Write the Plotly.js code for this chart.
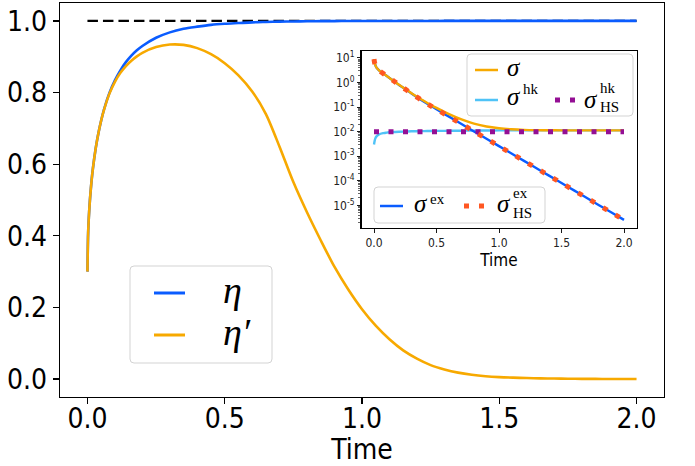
<!DOCTYPE html>
<html><head><meta charset="utf-8">
<script src="https://cdn.plot.ly/plotly-3.0.1.min.js"></script>
<style>html,body{margin:0;padding:0;background:#fff}#chart{width:695px;height:466px}</style>
</head><body><div id="chart"></div>
<script>
// ---------- main panel data ----------
const timeMain = [0,0.0025,0.005,0.0075,0.01,0.015,0.02,0.03,0.04,0.05,0.06,0.08,0.1,0.12,0.14,0.16,0.18,0.2,0.25,0.3,0.35,0.4,0.45,0.5,0.55,0.6,0.65,0.7,0.75,0.8,0.85,0.9,0.95,1.0,1.05,1.1,1.15,1.2,1.25,1.3,1.35,1.4,1.45,1.5,1.55,1.6,1.65,1.7,1.75,1.8,1.85,1.9,1.95,2.0];
const eta = [0.30,0.408,0.451,0.483,0.51,0.554,0.589,0.644,0.687,0.722,0.752,0.799,0.834,0.862,0.885,0.903,0.918,0.930,0.953,0.968,0.978,0.984,0.989,0.992,0.994,0.996,0.997,0.998,0.9985,0.999,0.9993,0.9995,0.9996,0.9997,0.9998,0.9998,0.9999,0.9999,0.9999,1,1,1,1,1,1,1,1,1,1,1,1,1,1,1];
const etaPrime = [0.30,0.408,0.451,0.483,0.51,0.554,0.589,0.644,0.687,0.722,0.751,0.797,0.830,0.855,0.874,0.889,0.901,0.911,0.927,0.934,0.933,0.924,0.907,0.882,0.848,0.803,0.740,0.648,0.550,0.465,0.387,0.313,0.250,0.195,0.149,0.111,0.080,0.057,0.039,0.027,0.018,0.012,0.008,0.0055,0.004,0.003,0.002,0.0015,0.001,0.0007,0.0005,0.0003,0.0002,0.0001];
const refTime = [0, 2.0];
const refLevel = [1.0, 1.0];
const mainXTicks = [0, 0.5, 1.0, 1.5, 2.0];
const mainXTickText = ['0.0','0.5','1.0','1.5','2.0'];
const mainYTicks = [0, 0.2, 0.4, 0.6, 0.8, 1.0];
const mainYTickText = ['0.0','0.2','0.4','0.6','0.8','1.0'];

// ---------- inset data ----------
const timeInset = [0,0.005,0.01,0.02,0.04,0.075,0.1,0.15,0.2,0.25,0.3,0.35,0.4,0.45,0.5,0.6,0.7,0.8,0.9,1.0,1.1,1.2,1.3,1.4,1.5,1.6,1.7,1.8,1.9,2.0];
const sigma = [8.903,6.304,5.255,3.986,3.098,2.299,1.869,1.240,0.804,0.547,0.365,0.250,0.177,0.126,0.092,0.0515,0.0313,0.0212,0.0162,0.0138,0.0125,0.0118,0.0115,0.0114,0.0113,0.0112,0.0112,0.0112,0.0112,0.0112];
const sigmaHk = [0.0030,0.0042,0.0052,0.0064,0.0077,0.0087,0.0091,0.0096,0.0099,0.0101,0.0103,0.0104,0.0105,0.0106,0.0107,0.0108,0.0109,0.0110,0.0111,0.0112,0.0112,0.0112,0.0112,0.0112,0.0112,0.0112,0.0112,0.0112,0.0112,0.0112];
const sigmaEx = [8.9,6.3,5.25,3.98,3.09,2.29,1.86,1.23,0.794,0.537,0.355,0.240,0.166,0.115,0.0813,0.0407,0.0204,0.0102,0.00513,0.00257,0.00129,0.000646,0.000324,0.000162,0.0000813,0.0000407,0.0000204,0.0000102,0.00000513,0.00000257];
const sigmaExHS = [8.9,6.3,5.25,3.98,3.09,2.29,1.86,1.23,0.794,0.537,0.355,0.240,0.166,0.115,0.0813,0.0407,0.0204,0.0102,0.00513,0.00257,0.00129,0.000646,0.000324,0.000162,0.0000813,0.0000407,0.0000204,0.0000102,0.00000513,0.00000257];
const hsHkTime = [0, 2.0];
const sigmaHkHS = [0.0100, 0.0100];
const insetYTicks = [1e1,1e0,1e-1,1e-2,1e-3,1e-4,1e-5];
const insetYTickText = ['10<sup>1</sup>','10<sup>0</sup>','10<sup>-1</sup>','10<sup>-2</sup>','10<sup>-3</sup>','10<sup>-4</sup>','10<sup>-5</sup>'];
const insetXTicks = [0, 0.5, 1.0, 1.5, 2.0];
const insetXTickText = ['0.0','0.5','1.0','1.5','2.0'];

// ---------- colours ----------
const BLUE = '#0a5cff', ORANGE = '#f7a900', LIGHTBLUE = '#4fc3f7', RED = '#ff5722', PURPLE = '#940f94';

// minor tick positions for log axis
const minorVals = [];
for (let e = -6; e <= 1; e++) for (let k = 2; k <= 9; k++) minorVals.push(k * Math.pow(10, e));

// pixel -> paper helpers (plot area: l=60, t=3, w=604, h=394)
const L = 60, T = 3, W = 604, H = 394;
const fx = x => (x - L) / W;
const fy = y => 1 - (y - T) / H;

const traces = [
  {x: refTime, y: refLevel, mode: 'lines', line: {color: '#000', width: 2.2, dash: '10.5px,5px'}, xaxis: 'x', yaxis: 'y', hoverinfo: 'skip'},
  {x: timeMain, y: eta, mode: 'lines', line: {color: BLUE, width: 2.6, shape: 'spline', smoothing: 0.8}, xaxis: 'x', yaxis: 'y'},
  {x: timeMain, y: etaPrime, mode: 'lines', line: {color: ORANGE, width: 2.6, shape: 'spline', smoothing: 0.8}, xaxis: 'x', yaxis: 'y'},
  {x: timeInset, y: sigmaHk, mode: 'lines', line: {color: LIGHTBLUE, width: 2.4, shape: 'spline'}, xaxis: 'x2', yaxis: 'y2'},
  {x: timeInset, y: sigmaEx, mode: 'lines', line: {color: BLUE, width: 2.4, shape: 'spline'}, xaxis: 'x2', yaxis: 'y2'},
  {x: timeInset, y: sigma, mode: 'lines', line: {color: ORANGE, width: 2.4, shape: 'spline'}, xaxis: 'x2', yaxis: 'y2'},
  {x: hsHkTime, y: sigmaHkHS, mode: 'lines', line: {color: PURPLE, width: 5, dash: '5px,9.5px'}, xaxis: 'x2', yaxis: 'y2'},
  {x: timeInset, y: sigmaExHS, mode: 'lines', line: {color: RED, width: 5, dash: '5px,9.5px', shape: 'spline'}, xaxis: 'x2', yaxis: 'y2'}
];

function rrect(x0, y0, x1, y1, r) {
  const rx = r / W, ry = r / H;
  const a = fx(x0), b = fx(x1), c = fy(y0), d = fy(y1);
  return `M ${a+rx},${c} L ${b-rx},${c} Q ${b},${c} ${b},${c-ry} L ${b},${d+ry} Q ${b},${d} ${b-rx},${d} L ${a+rx},${d} Q ${a},${d} ${a},${d+ry} L ${a},${c-ry} Q ${a},${c} ${a+rx},${c} Z`;
}
function box(x0, y0, x1, y1) {
  return {type: 'path', xref: 'paper', yref: 'paper', path: rrect(x0, y0, x1, y1, 4),
          fillcolor: 'rgba(255,255,255,0.8)', line: {color: '#d3d3d3', width: 1}, layer: 'above'};
}
function seg(x0, x1, y, color, width, dash) {
  return {type: 'line', xref: 'paper', yref: 'paper', x0: fx(x0), x1: fx(x1), y0: fy(y), y1: fy(y),
          line: {color: color, width: width, dash: dash || 'solid'}, layer: 'above'};
}
const SERIF = 'Liberation Serif, DejaVu Serif, serif';
function txt(x, y, text, size, italic) {
  return {xref: 'paper', yref: 'paper', x: fx(x), y: fy(y), xanchor: 'left', yanchor: 'middle',
          text: italic ? '<i>' + text + '</i>' : text, showarrow: false,
          font: {family: SERIF, size: size, color: '#000'}, borderpad: 0};
}

const shapes = [
  box(130, 266, 272, 363),
  seg(154, 185, 293, BLUE, 3),
  seg(154, 185, 335, ORANGE, 3),
  box(467, 54, 633, 116),
  seg(475, 498, 70, ORANGE, 2.5),
  seg(475, 498, 100, LIGHTBLUE, 2.5),
  seg(555, 576, 100, PURPLE, 5, '5px,10px'),
  box(374, 187, 545, 223),
  seg(380, 403, 206, BLUE, 2.5),
  seg(464, 486, 206, RED, 5, '5px,10px')
];

const annotations = [
  txt(222, 290, 'η', 38, true),
  txt(222, 332, 'η′', 38, true),
  txt(506, 67, 'σ', 25, true),
  txt(506, 97, 'σ', 25, true),
  txt(522, 89, 'hk', 15, false),
  txt(583, 99, 'σ', 25, true),
  txt(599, 88, 'hk', 15, false),
  txt(599, 107, 'HS', 15, false),
  txt(413, 203, 'σ', 25, true),
  txt(429, 199, 'ex', 15, false),
  txt(496, 203, 'σ', 25, true),
  txt(512, 193, 'ex', 15, false),
  txt(512, 213, 'HS', 15, false)
];

const SANS = 'Liberation Sans Narrow, DejaVu Sans Condensed, Arial Narrow, sans-serif';
const layout = {
  width: 695, height: 466,
  margin: {l: L, r: 695 - L - W, t: T, b: 466 - T - H},
  paper_bgcolor: '#fff', plot_bgcolor: 'rgba(0,0,0,0)',
  showlegend: false,
  font: {family: SANS, color: '#000'},
  xaxis: {domain: [0, 1], range: [-0.1, 2.1], showgrid: false, zeroline: false,
          showline: true, mirror: true, linecolor: '#000', linewidth: 1.3,
          ticks: 'outside', ticklen: 6, tickwidth: 1.3, tickcolor: '#000',
          tickmode: 'array', tickvals: mainXTicks, ticktext: mainXTickText, ticklabelstandoff: -10,
          tickfont: {family: SANS, size: 28, color: '#000'},
          title: {text: 'Time', font: {family: SANS, size: 28, color: '#000'}, standoff: 17}},
  yaxis: {domain: [0, 1], range: [-0.05, 1.05], showgrid: false, zeroline: false,
          showline: true, mirror: true, linecolor: '#000', linewidth: 1.3,
          ticks: 'outside', ticklen: 6, tickwidth: 1.3, tickcolor: '#000',
          tickmode: 'array', tickvals: mainYTicks, ticktext: mainYTickText,
          tickfont: {family: SANS, size: 28, color: '#000'}},
  xaxis2: {domain: [fx(361.5), fx(636.5)], anchor: 'y2', range: [-0.1, 2.1], showgrid: false, zeroline: false,
           showline: true, mirror: true, linecolor: '#000', linewidth: 1.1,
           ticks: 'outside', ticklen: 3.5, tickwidth: 0.9, tickcolor: '#000',
           tickmode: 'array', tickvals: insetXTicks, ticktext: insetXTickText,
           tickfont: {family: SANS, size: 12, color: '#222'},
           title: {text: 'Time', font: {family: SANS, size: 17, color: '#000'}, standoff: 2}},
  yaxis2: {domain: [fy(228), fy(51)], anchor: 'x2', type: 'log', range: [-5.92, 1.28], showgrid: false, zeroline: false,
           showline: true, mirror: true, linecolor: '#000', linewidth: 1.1,
           ticks: 'outside', ticklen: 3.5, tickwidth: 0.9, tickcolor: '#000',
           tickmode: 'array', tickvals: insetYTicks, ticktext: insetYTickText,
           tickfont: {family: SANS, size: 12, color: '#222'},
           minor: {tickmode: 'array', tickvals: minorVals, ticks: 'outside', ticklen: 2, tickwidth: 0.6, tickcolor: '#000', showgrid: false}},
  shapes: shapes,
  annotations: annotations
};

Plotly.newPlot('chart', traces, layout, {staticPlot: true, displayModeBar: false});
</script>
</body></html>
